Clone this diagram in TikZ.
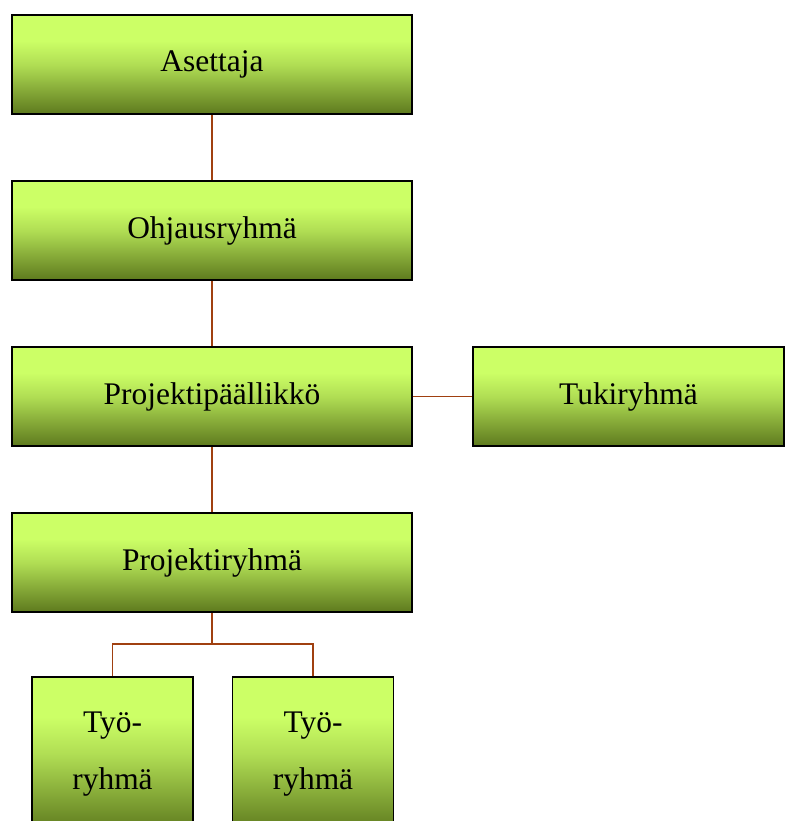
\documentclass[tikz,border=0pt]{standalone}
\usepackage{fontspec}
\setmainfont{Liberation Serif}
\usepackage{tikz}
\usetikzlibrary{positioning,calc}
\definecolor{boxlight}{RGB}{204,255,102}
\definecolor{boxdark}{RGB}{94,122,30}
\definecolor{linkbrown}{RGB}{160,64,16}
\pgfdeclareverticalshading{orgshade}{100bp}{color(0bp)=(boxdark); color(25bp)=(boxdark); color(50bp)=(boxlight!75!boxdark); color(62bp)=(boxlight); color(100bp)=(boxlight)}

\begin{document}
\begin{tikzpicture}[
  orgbox/.style={rectangle, draw=black, line width=1pt, shading=orgshade,
                 minimum width=8cm, minimum height=1.98cm, align=center,
                 font=\fontsize{17.9}{32.4}\selectfont},
  link/.style={draw=linkbrown, line width=1.1pt}
]
\clip (0,0) rectangle (15.72,-16.42);

% paaketju
\node[orgbox] (asettaja) at (4.24,-1.29) {Asettaja};
\node[orgbox] (ohjaus) at (4.24,-4.61) {Ohjausryhmä};
\node[orgbox] (pp) at (4.24,-7.93) {Projektipäällikkö};
\node[orgbox, minimum width=6.22cm] (tuki) at (12.57,-7.93) {Tukiryhmä};
\node[orgbox] (pr) at (4.24,-11.25) {Projektiryhmä};

% tyoryhmat
\node[orgbox, minimum width=3.22cm, minimum height=3.08cm] (tyo1) at (2.25,-15.08) {Työ-\\ryhmä};
\node[orgbox, minimum width=3.22cm, minimum height=3.08cm] (tyo2) at (6.26,-15.08) {Työ-\\ryhmä};

% yhteydet
\draw[link] (asettaja) -- (ohjaus);
\draw[link] (ohjaus) -- (pp);
\draw[link] (pp) -- (pr);
\draw[link] (pp) -- (tuki);
\coordinate (haara) at ($(pr.south)+(0,-0.62)$);
\draw[link] (pr.south) -- (haara);
\draw[link] (haara) -| (tyo1.north);
\draw[link] (haara) -| (tyo2.north);
\end{tikzpicture}
\end{document}
